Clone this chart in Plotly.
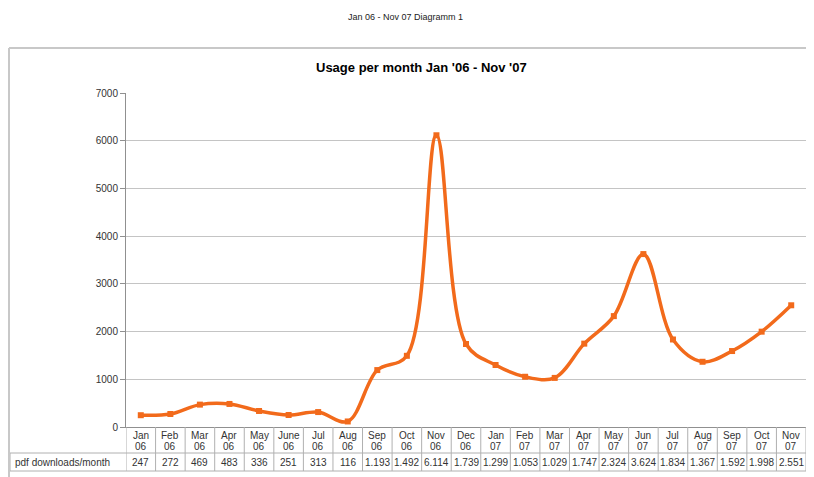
import plotly.graph_objects as go

months = ["Jan", "Feb", "Mar", "Apr", "May", "June", "Jul", "Aug", "Sep", "Oct", "Nov", "Dec",
          "Jan", "Feb", "Mar", "Apr", "May", "Jun", "Jul", "Aug", "Sep", "Oct", "Nov"]
years = ["06"] * 12 + ["07"] * 11
downloads = [247, 272, 469, 483, 336, 251, 313, 116, 1193, 1492, 6114, 1739,
             1299, 1053, 1029, 1747, 2324, 3624, 1834, 1367, 1592, 1998, 2551]
series_name = "pdf downloads/month"
y_ticks = [0, 1000, 2000, 3000, 4000, 5000, 6000, 7000]

OFF = 8  # page body margin offset
W, H = 806 - OFF, 477 - OFF
L, R, T, B = 126 - OFF, 0, 93 - OFF, 477 - 427
pw, ph = W - L - R, H - T - B

def py(p):  # screen pixel y -> paper y
    return (H - B - (p - OFF)) / ph

def px(p):  # screen pixel x -> paper x
    return ((p - OFF) - L) / pw

def fmt(v):
    return f"{v:,}".replace(",", ".")

x = list(range(len(downloads)))
font = "Liberation Sans, Arial, sans-serif"
orange = "#f26a1b"
gridc = "#c4c4c4"
linec = "#b0b0b0"

fig = go.Figure()
fig.add_trace(go.Scatter(
    x=x, y=downloads, mode="lines+markers",
    line=dict(color=orange, width=3.5, shape="spline", smoothing=1.0),
    marker=dict(symbol="square", size=6, color=orange),
    showlegend=False, hoverinfo="skip",
))

annotations = []
shapes = []
for i, (m, yr, v) in enumerate(zip(months, years, downloads)):
    annotations.append(dict(x=i, y=py(435), xref="x", yref="paper", text=m, showarrow=False,
                            font=dict(size=10, color="#333333", family=font), yanchor="middle"))
    annotations.append(dict(x=i, y=py(446), xref="x", yref="paper", text=yr, showarrow=False,
                            font=dict(size=10, color="#333333", family=font), yanchor="middle"))
    annotations.append(dict(x=i, y=py(462), xref="x", yref="paper", text=fmt(v), showarrow=False,
                            font=dict(size=10, color="#333333", family=font), yanchor="middle"))

# table vertical separators
for i in range(len(downloads) + 1):
    shapes.append(dict(type="line", xref="x", yref="paper", x0=i - 0.5, x1=i - 0.5,
                       y0=0, y1=py(471), line=dict(color=linec, width=1)))
# data row horizontal lines
for yy in (453, 471):
    shapes.append(dict(type="line", xref="paper", yref="paper", x0=px(10), x1=1,
                       y0=py(yy), y1=py(yy), line=dict(color=linec, width=1)))
shapes.append(dict(type="line", xref="paper", yref="paper", x0=px(10), x1=px(10),
                   y0=py(453), y1=py(471), line=dict(color=linec, width=1)))
# outer frame
shapes.append(dict(type="line", xref="paper", yref="paper", x0=px(9), x1=px(9),
                   y0=py(48), y1=py(477), line=dict(color="#c8c8c8", width=2)))
shapes.append(dict(type="line", xref="paper", yref="paper", x0=px(9), x1=1.01,
                   y0=py(48), y1=py(48), line=dict(color="#c8c8c8", width=2)))

annotations.append(dict(x=px(13), y=py(462), xref="paper", yref="paper", text=series_name,
                        showarrow=False, xanchor="left", yanchor="middle",
                        font=dict(size=10, color="#333333", family=font)))
annotations.append(dict(x=px(421), y=py(68), xref="paper", yref="paper",
                        text="<b>Usage per month Jan '06 - Nov '07</b>", showarrow=False,
                        font=dict(size=13, color="#000000", family=font), yanchor="middle"))
annotations.append(dict(x=px(405), y=py(17), xref="paper", yref="paper",
                        text="Jan 06 - Nov 07 Diagramm 1", showarrow=False,
                        font=dict(size=9, color="#222222", family=font), yanchor="middle"))

fig.update_layout(
    width=W, height=H,
    margin=dict(l=L, r=R, t=T, b=B),
    paper_bgcolor="white", plot_bgcolor="white",
    annotations=annotations, shapes=shapes,
    xaxis=dict(range=[-0.5, len(downloads) - 0.5], showticklabels=False, showgrid=False,
               zeroline=False, showline=True, linecolor="#909090", linewidth=1, ticks=""),
    yaxis=dict(range=[0, 7000], tickvals=y_ticks, showgrid=True, gridcolor=gridc, gridwidth=1,
               zeroline=False, showline=True, linecolor="#909090", linewidth=1,
               ticks="outside", ticklen=5, tickcolor="#909090",
               tickfont=dict(size=10, color="#333333", family=font)),
)

fig.write_html("out.html")
